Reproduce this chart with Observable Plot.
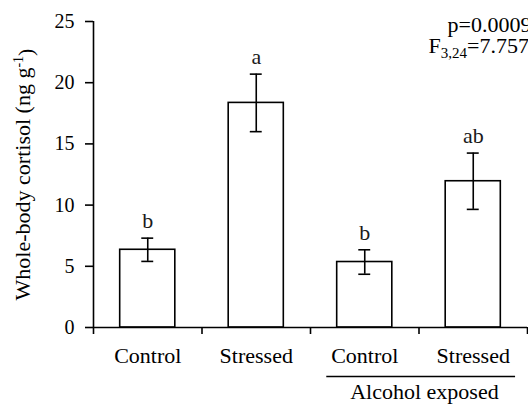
<!DOCTYPE html>
<html><head><meta charset="utf-8">
<script src="https://cdn.jsdelivr.net/npm/d3@7"></script>
<script src="https://cdn.jsdelivr.net/npm/@observablehq/plot@0.6"></script>
<style>
body{margin:0;background:#fff;}
#chart{width:528px;height:406px;overflow:hidden;}
</style>
</head><body><div id="chart"></div>
<script>
const categories = ["Control", "Stressed", "Control", "Stressed"];
const means = [6.35, 18.35, 5.35, 11.95];
const errors = [0.95, 2.35, 1.0, 2.3];
const letters = ["b", "a", "b", "ab"];
const yTicks = [0, 5, 10, 15, 20, 25];
const groups = [{label: "Alcohol exposed", from: 2, to: 3}];
const yTitle = {main: "Whole-body cortisol (ng g", sup: "-1", end: ")"};
const stats = [
  {label: "p", sub: "", value: "0.0009"},
  {label: "F", sub: "3,24", value: "7.757"}
];

const data = categories.map((c, i) => ({i, pos: i + 0.5, cat: c, mean: means[i], se: errors[i], letter: letters[i]}));
const serif = "'Liberation Serif', 'Times New Roman', serif";
const barHalf = 0.254, capHalf = 0.055;

const plot = Plot.plot({
  width: 528, height: 406,
  marginLeft: 93, marginRight: 1, marginTop: 21, marginBottom: 79,
  style: {fontFamily: serif, fontSize: "20px", color: "#000", background: "#fff"},
  x: {type: "linear", domain: [0, 4]},
  y: {domain: [0, 25]},
  marks: [
    Plot.rect(data, {x1: d => d.pos - barHalf, x2: d => d.pos + barHalf, y1: 0, y2: "mean", fill: "white", stroke: "black", strokeWidth: 1.6}),
    Plot.ruleX(data, {x: "pos", y1: d => d.mean - d.se, y2: d => d.mean + d.se, stroke: "black", strokeWidth: 1.6}),
    Plot.ruleY(data, {y: d => d.mean + d.se, x1: d => d.pos - capHalf, x2: d => d.pos + capHalf, stroke: "black", strokeWidth: 1.6}),
    Plot.ruleY(data, {y: d => d.mean - d.se, x1: d => d.pos - capHalf, x2: d => d.pos + capHalf, stroke: "black", strokeWidth: 1.6}),
    Plot.text(data, {x: "pos", y: d => d.mean + d.se, text: "letter", dy: -17, lineAnchor: "middle", fontSize: 22, fill: "#1a1a1a"}),
    Plot.axisY({ticks: yTicks, tickSize: 8, tickPadding: 11, label: null, fontSize: 20, strokeWidth: 1.6}),
    Plot.ruleX([0], {stroke: "black", strokeWidth: 1.6}),
    Plot.ruleY([0], {stroke: "black", strokeWidth: 1.6}),
    Plot.axisX({ticks: [0, 1, 2, 3, 4], tickSize: 7, tickFormat: () => "", label: null, strokeWidth: 1.6}),
    Plot.axisX({ticks: data.map(d => d.pos), tickSize: 0, tickPadding: 20, tickFormat: v => categories[Math.floor(v)], label: null, fontSize: 22}),
    Plot.ruleY(groups, {y: 0, x1: d => d.from + 0.15, x2: d => d.to + 0.89, dy: 49, stroke: "black", strokeWidth: 1.6}),
    Plot.text(groups, {x: d => (d.from + d.to) / 2 + 0.55, y: 0, text: "label", dy: 64, lineAnchor: "middle", fontSize: 22}),
    Plot.text([yTitle], {frameAnchor: "left", text: d => d.main + d.sup + d.end, rotate: -90, textAnchor: "middle", dx: -71, dy: 0, lineAnchor: "middle", fontSize: 22}),
    Plot.text(stats, {frameAnchor: "top-right", text: d => d.label + d.sub + "=" + d.value, textAnchor: "start",
      fontSize: 22, lineAnchor: "middle"})
  ]
});

document.getElementById("chart").appendChild(plot);

// rich text: superscript / subscript
const svg = d3.select(plot);
svg.selectAll("text").each(function() {
  const t = d3.select(this);
  const content = this.textContent;
  if (content === yTitle.main + yTitle.sup + yTitle.end) {
    t.text(null);
    t.append("tspan").text(yTitle.main);
    t.append("tspan").attr("dy", "-0.45em").attr("font-size", "14px").text(yTitle.sup);
    t.append("tspan").attr("dy", "0.45em").text(yTitle.end);
  }
});
// stats positions (offsets from the top-right of the frame)
const statOffsets = [{dx: -80, dy: -4}, {dx: -99, dy: 17}];
svg.selectAll("text").each(function() {
  const t = d3.select(this);
  const content = this.textContent;
  stats.forEach((s, k) => {
    if (content === s.label + s.sub + "=" + s.value) {
      t.text(null);
      t.attr("dx", statOffsets[k].dx).attr("dy", null);
      t.append("tspan").attr("dy", statOffsets[k].dy + 7).text(s.label);
      if (s.sub) {
        t.append("tspan").attr("dy", 5).attr("font-size", "15px").text(s.sub);
        t.append("tspan").attr("dy", -5).text("=" + s.value);
      } else {
        t.append("tspan").text("=" + s.value);
      }
    }
  });
});
</script>
</body></html>
